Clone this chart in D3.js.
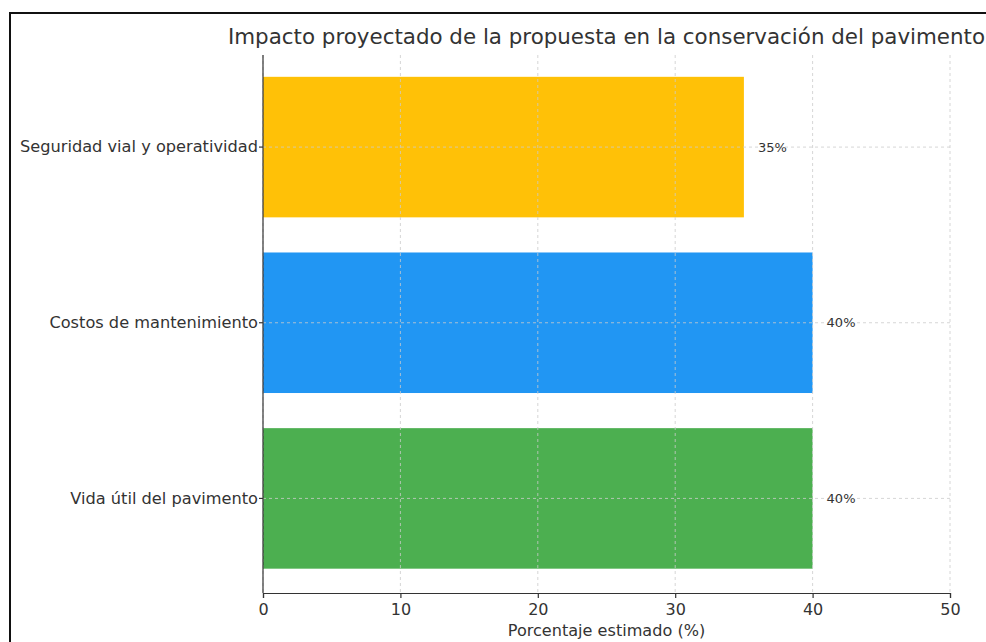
<!DOCTYPE html>
<meta charset="utf-8">
<style>
  body { margin: 0; background: #fff; }
  text { font-family: "DejaVu Sans", sans-serif; fill: #333; }
  .grid line { stroke: #ccc; stroke-dasharray: 3,3; stroke-width: 0.8; }
  .axis path, .axis line { stroke: #333; stroke-width: 1.2; }
</style>
<script src="https://d3js.org/d3.v7.min.js"></script>
<body>
</body>
<script>
// categories from top to bottom
var categories = ["Seguridad vial y operatividad", "Costos de mantenimiento", "Vida útil del pavimento"];
var values = [35, 40, 40];
var colors = ["#FFC107", "#2196F3", "#4CAF50"];
var xTicks = [0, 10, 20, 30, 40, 50];

var width = 986, height = 642;
var mLeft = 263, mRight = 950, mTop = 55, mBottom = 593;

var svg = d3.select("body").append("svg")
    .attr("width", width)
    .attr("height", height);

// image frame
svg.append("rect")
    .attr("x", 10).attr("y", 13)
    .attr("width", width).attr("height", height)
    .attr("fill", "none").attr("stroke", "#111").attr("stroke-width", 2);

var x = d3.scaleLinear().domain([0, 50]).range([mLeft, mRight]);
var y = d3.scaleBand().domain(categories)
    .range([mTop + 4.25, mBottom - 6.75])
    .paddingInner(0.2).paddingOuter(0.1);

// bars
svg.selectAll(".bar").data(categories).enter().append("rect")
    .attr("class", "bar")
    .attr("x", x(0))
    .attr("y", function(d) { return y(d); })
    .attr("width", function(d, i) { return x(values[i]) - x(0); })
    .attr("height", y.bandwidth())
    .attr("fill", function(d, i) { return colors[i]; });

// grid (drawn over bars like the original)
var grid = svg.append("g").attr("class", "grid");
grid.selectAll(".vg").data(xTicks).enter().append("line")
    .attr("x1", function(d) { return x(d); })
    .attr("x2", function(d) { return x(d); })
    .attr("y1", mTop).attr("y2", mBottom);
grid.selectAll(".hg").data(categories).enter().append("line")
    .attr("x1", mLeft).attr("x2", mRight)
    .attr("y1", function(d) { return y(d) + y.bandwidth() / 2; })
    .attr("y2", function(d) { return y(d) + y.bandwidth() / 2; });

// value labels
svg.selectAll(".val").data(categories).enter().append("text")
    .attr("x", function(d, i) { return x(values[i]) + 14; })
    .attr("y", function(d) { return y(d) + y.bandwidth() / 2; })
    .attr("dy", "0.35em")
    .style("font-size", "13px")
    .text(function(d, i) { return values[i] + "%"; });

// axes
var xAxis = svg.append("g").attr("class", "axis")
    .attr("transform", "translate(0," + mBottom + ")")
    .call(d3.axisBottom(x).tickValues(xTicks).tickSizeOuter(0).tickSize(5));
xAxis.selectAll("text").style("font-size", "16px").attr("dy", "0.85em");

var yAxis = svg.append("g").attr("class", "axis")
    .attr("transform", "translate(" + mLeft + ",0)")
    .call(d3.axisLeft(y).tickSizeOuter(0).tickSize(4));
yAxis.select(".domain").attr("d", "M0," + mTop + "V" + mBottom);
yAxis.selectAll("text").style("font-size", "16.2px").attr("x", -5);

svg.append("text")
    .attr("x", (mLeft + mRight) / 2).attr("y", 636)
    .attr("text-anchor", "middle")
    .style("font-size", "16.1px")
    .text("Porcentaje estimado (%)");

svg.append("text")
    .attr("x", (mLeft + mRight) / 2).attr("y", 44)
    .attr("text-anchor", "middle")
    .style("font-size", "21.4px")
    .text("Impacto proyectado de la propuesta en la conservación del pavimento");
</script>
